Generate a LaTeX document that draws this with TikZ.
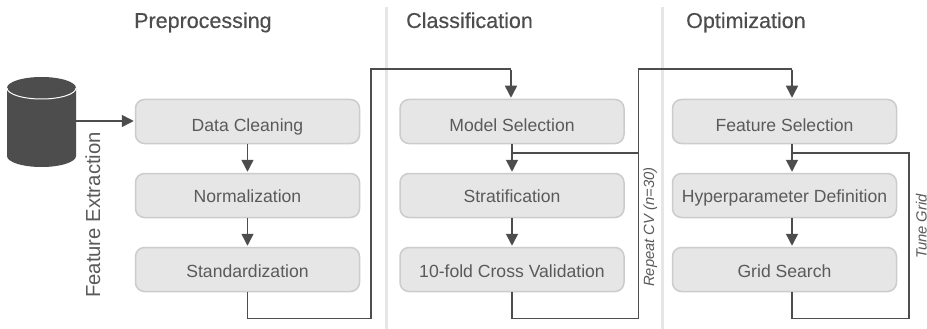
\documentclass[tikz,border=0pt]{standalone}
\usepackage{fontspec}
\setmainfont{Liberation Sans}
\newfontfamily\headfont[FakeBold=0.35]{Liberation Sans}
\usetikzlibrary{arrows.meta}
\definecolor{ink}{HTML}{4D4D4D}
\definecolor{boxfill}{HTML}{E6E6E6}
\definecolor{boxline}{HTML}{CCCCCC}
\definecolor{divider}{HTML}{E6E6E6}
\definecolor{txt}{HTML}{5A5A5A}
\tikzset{
  flowbox/.style={draw=boxline,line width=1.5pt,fill=boxfill,rounded corners=9pt,minimum width=224pt,minimum height=44pt,inner sep=0pt,text=txt,font=\fontsize{17.6pt}{19pt}\selectfont,text depth=0pt},
  rowa/.style={text height=20pt},
  rowb/.style={text height=13pt},
  rowc/.style={text height=16pt},
  header/.style={anchor=base west,inner sep=0pt,text=ink,font=\fontsize{21.5pt}{23pt}\selectfont\headfont},
  wire/.style={draw=ink,line width=1.5pt},
  flow/.style={wire,-{Triangle[length=12pt,width=12pt]},shorten >=1pt},
  rotlabel/.style={rotate=90,anchor=base,inner sep=0pt,text=txt,font=\fontsize{14.8pt}{16pt}\selectfont\itshape},
}
\begin{document}
\begin{tikzpicture}[x=1pt,y=-1pt]
\useasboundingbox (0,0) rectangle (927,329);
\fill[white] (0,0) rectangle (927,329);
\draw[divider,line width=3pt] (386.5,7) -- (386.5,329);
\draw[divider,line width=3pt] (662,7) -- (662,329);
\node[header] (h1) at (134,28) {Preprocessing};
\node[header] (h2) at (406,28) {Classification};
\node[header] (h3) at (686,28) {Optimization};
% database
\fill[ink] (7,88) -- (7,156) arc[start angle=180,end angle=360,x radius=34.5,y radius=-11] -- (76,88) arc[start angle=0,end angle=180,x radius=34.5,y radius=-11] -- cycle;
\draw[white,line width=1pt] (7,88) arc[start angle=180,end angle=360,x radius=34.5,y radius=-11];
\coordinate (db) at (76,121);
\node[flowbox,rowa] (a1) at (247.5,121.5) {Data Cleaning};
\node[flowbox,rowb] (a2) at (247.5,195.5) {Normalization};
\node[flowbox,rowc] (a3) at (247.5,269.5) {Standardization};
\node[flowbox,rowa] (b1) at (512,121.5) {Model Selection};
\node[flowbox,rowb] (b2) at (512,195.5) {Stratification};
\node[flowbox,rowc] (b3) at (512,269.5) {10-fold Cross Validation};
\node[flowbox,rowa] (c1) at (784.5,121.5) {Feature Selection};
\node[flowbox,rowb] (c2) at (784.5,195.5) {Hyperparameter Definition};
\node[flowbox,rowc] (c3) at (784.5,269.5) {Grid Search};
\node[rotate=90,anchor=base,inner sep=0pt,text=txt,font=\fontsize{20.3pt}{22pt}\selectfont] (fe) at (100,215) {Feature Extraction};
\node[rotlabel] (rc) at (654,227) {Repeat CV (\textit{n}=30)};
\node[rotlabel] (tg) at (926.5,226.5) {Tune Grid};
% routing points
\coordinate (ain) at (511,69);
\coordinate (cin) at (792,69);
\coordinate (abot) at (247.5,318.5);
\coordinate (bbot) at (512,318.5);
\coordinate (cbot) at (792,318.5);
\coordinate (bsplit) at (512,153);
\coordinate (csplit) at (792,153);
% connectors
\draw[flow] (db) -- (a1.west |- db);
\draw[flow] (a1.south) -- (a2.north);
\draw[flow] (a2.south) -- (a3.north);
\draw[wire] (a3.south) -- (abot) -- (371,318.5) -- (371,69) -- (ain);
\draw[flow] ([yshift=-0.75pt]ain) -- (ain |- b1.north);
\draw[flow] (b1.south) -- (b2.north);
\draw[flow] (b2.south) -- (b3.north);
\draw[wire] (b3.south) -- (bbot) -- (638.5,318.5) -- (638.5,69) -- (cin);
\draw[wire] (bsplit) -- (638.5,153);
\draw[flow] ([yshift=-0.75pt]cin) -- (cin |- c1.north);
\draw[flow] (cin |- c1.south) -- (cin |- c2.north);
\draw[flow] (cin |- c2.south) -- (cin |- c3.north);
\draw[wire] (cin |- c3.south) -- (cbot) -- (909,318.5) -- (909,153) -- (csplit);
\end{tikzpicture}
\end{document}
